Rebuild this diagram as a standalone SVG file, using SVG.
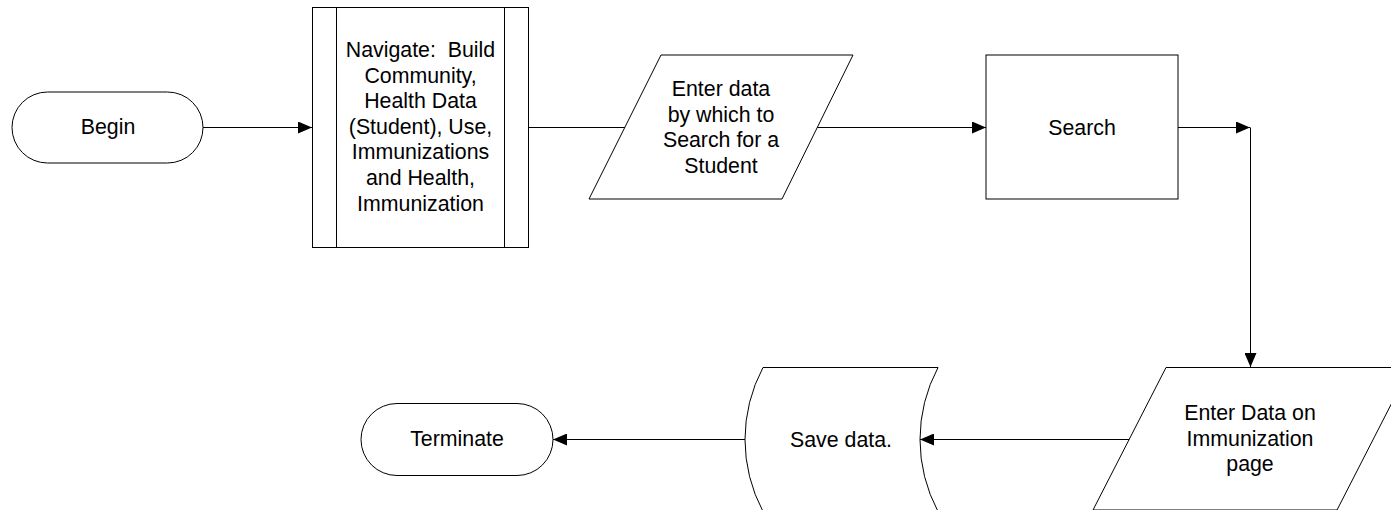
<svg xmlns="http://www.w3.org/2000/svg" width="1391" height="510" viewBox="0 0 1391 510">
<style>
.s{fill:#fff;stroke:#000;stroke-width:1}
.c{fill:none;stroke:#000;stroke-width:1}
text{font-family:"Liberation Sans",Arial,sans-serif;font-size:21.33px;fill:#000;text-anchor:middle}
</style>
<defs>
<marker id="ah" markerUnits="userSpaceOnUse" markerWidth="14" markerHeight="12" refX="14" refY="6" orient="auto">
<path d="M0,0 L14,6 L0,12 z" fill="#000"/>
</marker>
</defs>
<rect width="1391" height="510" fill="#fff"/>
<g id="connectors">
<path class="c" d="M203,127.5 H312" marker-end="url(#ah)"/>
<path class="c" d="M529,127.5 H625"/>
<path class="c" d="M817,127.5 H986" marker-end="url(#ah)"/>
<path class="c" d="M1178,127.5 H1250" marker-end="url(#ah)"/>
<path class="c" d="M1250.5,127.5 V367" marker-end="url(#ah)"/>
<path class="c" d="M1130,439.5 H920" marker-end="url(#ah)"/>
<path class="c" d="M745,439.5 H553" marker-end="url(#ah)"/>
</g>
<g id="begin">
<rect class="s" x="12" y="92" width="191" height="71" rx="35.5"/>
<text x="108" y="134">Begin</text>
</g>
<g id="navigate">
<rect class="s" x="312.5" y="7.5" width="216" height="240"/>
<path class="c" d="M336.5,7.5 V247.5 M504.5,7.5 V247.5"/>
<text x="420.5" y="57">Navigate:&#160; Build</text>
<text x="420.5" y="82.6">Community,</text>
<text x="420.5" y="108.2">Health Data</text>
<text x="420.5" y="133.8">(Student), Use,</text>
<text x="420.5" y="159.4">Immunizations</text>
<text x="420.5" y="185">and Health,</text>
<text x="420.5" y="210.6">Immunization</text>
</g>
<g id="enter-search">
<polygon class="s" points="661,55 853,55 782,199 589,199"/>
<path class="c" d="M625,127.5 H529"/>
<text x="721" y="96">Enter data</text>
<text x="721" y="121.6">by which to</text>
<text x="721" y="147.2">Search for a</text>
<text x="721" y="172.8">Student</text>
</g>
<g id="search">
<rect class="s" x="986" y="55" width="192" height="144"/>
<text x="1082" y="135">Search</text>
</g>
<g id="enter-immunization">
<polygon class="s" points="1166,367.5 1410,367.5 1337,510 1093,510"/>
<text x="1250" y="420">Enter Data on</text>
<text x="1250" y="445.6">Immunization</text>
<text x="1250" y="471.2">page</text>
</g>
<g id="save">
<path class="s" d="M763,367.5 H938 A153,153 0 0 0 938,511.5 H763 A153,153 0 0 1 763,367.5 Z"/>
<text x="841" y="446.5">Save data.</text>
</g>
<g id="terminate">
<rect class="s" x="361" y="403.5" width="192" height="72" rx="36"/>
<text x="457" y="446">Terminate</text>
</g>
</svg>
